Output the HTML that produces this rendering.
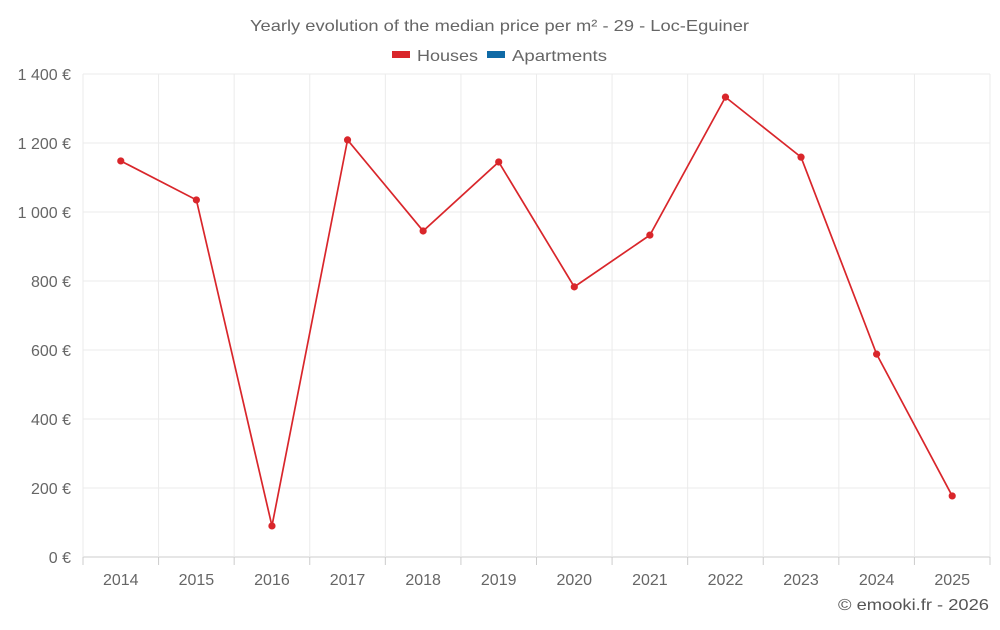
<!DOCTYPE html>
<html><head><meta charset="utf-8"><style>
body{margin:0;background:#fff;font-family:"Liberation Sans",sans-serif}
svg text{font-family:"Liberation Sans",sans-serif}
</style></head><body>
<svg id="c" width="1000" height="625">
<text x="250" y="31" textLength="499" lengthAdjust="spacingAndGlyphs" font-size="16" fill="#666">Yearly evolution of the median price per m² - 29 - Loc-Eguiner</text>
<g><rect x="392" y="51" width="18" height="7" fill="#d9262b"/><text x="417" y="61" textLength="61" lengthAdjust="spacingAndGlyphs" font-size="16" fill="#666">Houses</text></g>
<g><rect x="487" y="51" width="18" height="7" fill="#0f6aa6"/><text x="512" y="61" textLength="95" lengthAdjust="spacingAndGlyphs" font-size="16" fill="#666">Apartments</text></g>
<g id="grid"></g><g id="axes"></g><g id="series"></g>
<text x="838" y="610" textLength="151" lengthAdjust="spacingAndGlyphs" font-size="16" fill="#555">© emooki.fr - 2026</text>
</svg>
<script>
const years=["2014","2015","2016","2017","2018","2019","2020","2021","2022","2023","2024","2025"];
const houses=[1148,1035,90,1209,945,1145,783,933,1333,1159,588,177];
const yTicks=[0,200,400,600,800,1000,1200,1400];
const yLabels=["0 €","200 €","400 €","600 €","800 €","1 000 €","1 200 €","1 400 €"];
const NS="http://www.w3.org/2000/svg";
const L=83,R=990,T=74,B=557,yMax=1400;
const bw=(R-L)/years.length;
const xs=i=>L+bw*(i+0.5);
const ys=v=>B-(v/yMax)*(B-T);
function mk(t,a,p){const e=document.createElementNS(NS,t);for(const k in a)e.setAttribute(k,a[k]);p.appendChild(e);return e;}
const g=document.getElementById('grid'),ax=document.getElementById('axes'),s=document.getElementById('series');
yTicks.forEach((v,i)=>{
 const l=mk('line',{x1:L,x2:R,y1:ys(v),y2:ys(v),stroke:i==0?'#ccc':'#ebebeb'},g);
 
 
 const t=mk('text',{x:71,y:ys(v)+6,'text-anchor':'end','font-size':16,fill:'#666'},ax);
 t.textContent=yLabels[i];
 
 
});
for(let i=0;i<=years.length;i++){
 const l=mk('line',{x1:L+bw*i,x2:L+bw*i,y1:T,y2:B,stroke:'#ebebeb'},g);
 
 
 const tk=mk('line',{x1:L+bw*i,x2:L+bw*i,y1:B,y2:B+8,stroke:'#ccc'},g);
 
 
}
years.forEach((y,i)=>{
 const t=mk('text',{x:xs(i),y:585,'text-anchor':'middle','font-size':16,fill:'#666'},ax);
 t.textContent=y;
 
 
});
const pl=mk('polyline',{points:houses.map((v,i)=>xs(i)+','+ys(v)).join(' '),fill:'none',stroke:'#d9262b','stroke-width':1.7},s);


houses.forEach((v,i)=>{
 const c=mk('circle',{cx:xs(i),cy:ys(v),r:3.6,fill:'#d9262b'},s);
 
 
});
</script>
</body></html>
